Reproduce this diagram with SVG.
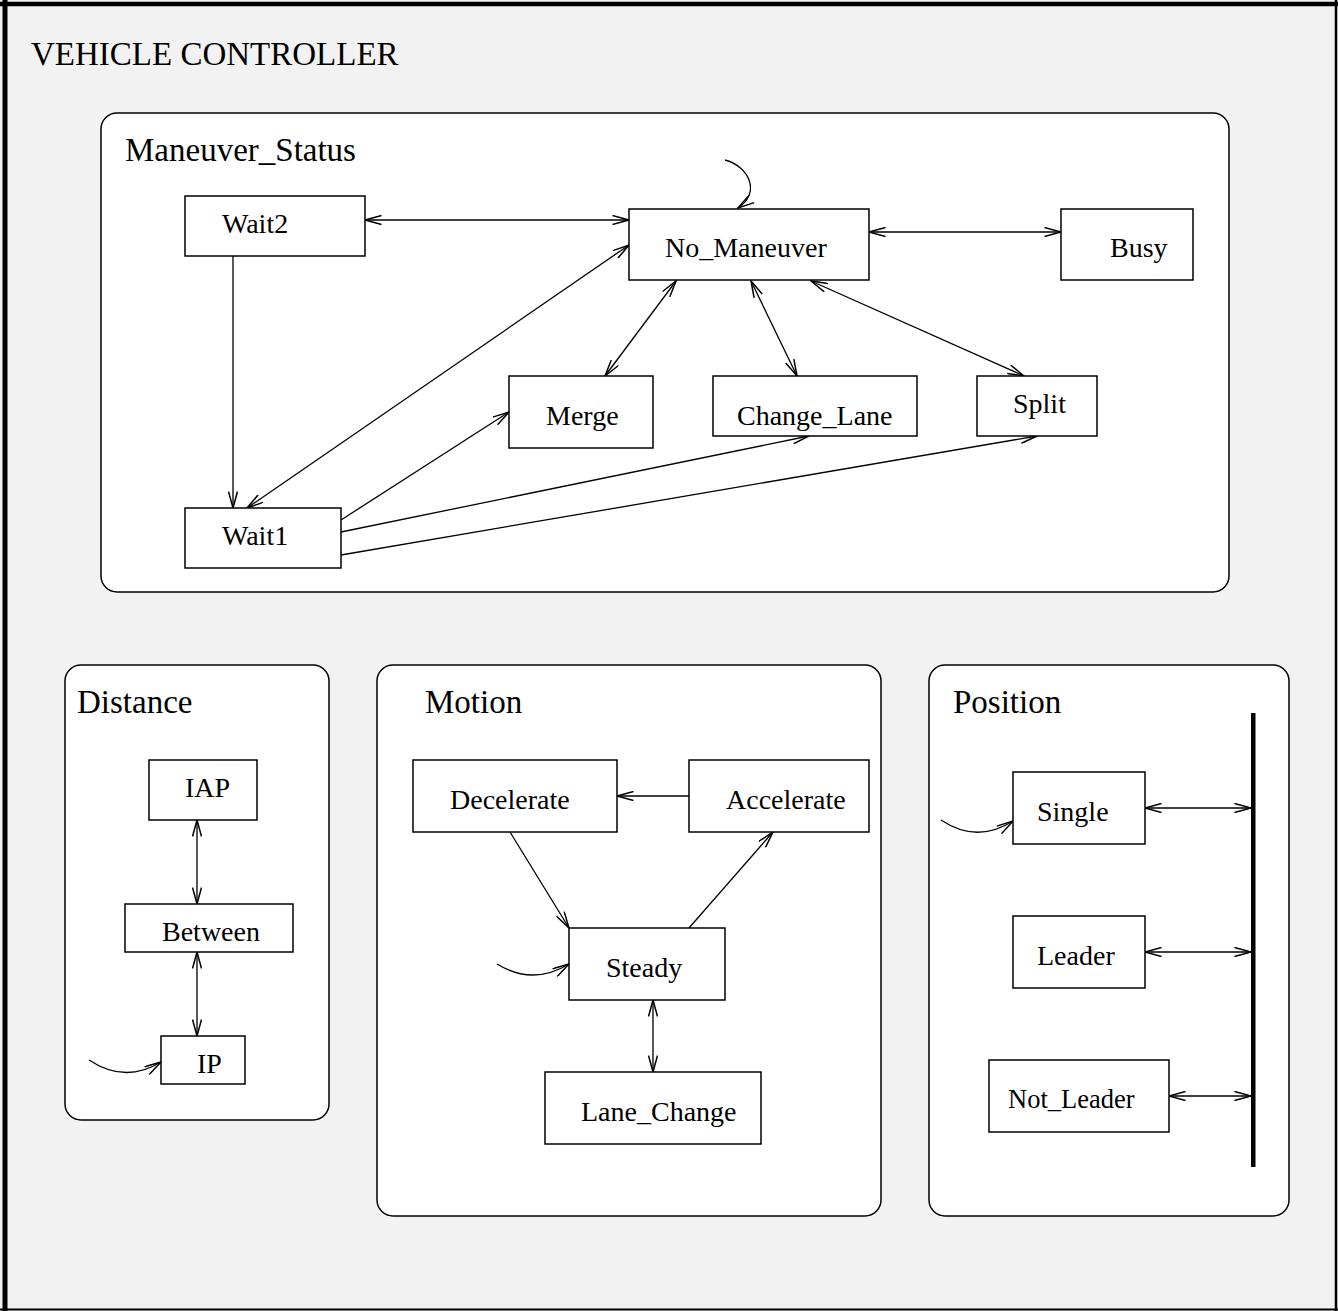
<svg xmlns="http://www.w3.org/2000/svg" width="1338" height="1311" viewBox="0 0 1338 1311">
<style>
text { font-family: "Liberation Serif", "Times New Roman", serif; fill: #000; }
.title { font-size: 33px; }
.lbl { font-size: 28px; }
.panel { fill: #fff; stroke: #000; stroke-width: 1.5; }
.state { fill: #fff; stroke: #000; stroke-width: 1.5; }
.c { fill: none; stroke: #000; stroke-width: 1.3; }
</style>
<defs>
<marker id="ah" viewBox="0 0 18 10" refX="17" refY="5" markerWidth="18" markerHeight="10" markerUnits="userSpaceOnUse" orient="auto-start-reverse">
<path d="M0.5,0.5 L17,5 L0.5,9.5" fill="none" stroke="#000" stroke-width="1.5"/>
</marker>
</defs>
<rect x="0" y="0" width="1338" height="1311" fill="#f2f2f2"/>
<g id="frame">
<line x1="0" y1="4" x2="1338" y2="4" stroke="#000" stroke-width="4.5"/>
<line x1="5" y1="0" x2="5" y2="1311" stroke="#000" stroke-width="5"/>
<line x1="1336" y1="0" x2="1336" y2="1311" stroke="#000" stroke-width="2.5"/>
<line x1="0" y1="1309.5" x2="1338" y2="1309.5" stroke="#000" stroke-width="2"/>
<text class="title" x="31" y="65">VEHICLE CONTROLLER</text>
</g>
<g id="maneuver_status">
<rect class="panel" x="101" y="113" width="1128" height="479" rx="16"/>
<text class="title" x="125" y="161">Maneuver_Status</text>
</g>
<g id="distance">
<rect class="panel" x="65" y="665" width="264" height="455" rx="16"/>
<text class="title" x="77" y="713">Distance</text>
</g>
<g id="motion">
<rect class="panel" x="377" y="665" width="504" height="551" rx="16"/>
<text class="title" x="425" y="713">Motion</text>
</g>
<g id="position">
<rect class="panel" x="929" y="665" width="360" height="551" rx="16"/>
<text class="title" x="953" y="713">Position</text>
<rect x="1251" y="713" width="4.5" height="454" fill="#000"/>
</g>
<g id="connectors">
<line class="c" x1="365" y1="220" x2="629" y2="220" marker-start="url(#ah)" marker-end="url(#ah)"/>
<line class="c" x1="869" y1="232" x2="1061" y2="232" marker-start="url(#ah)" marker-end="url(#ah)"/>
<path class="c" d="M725,160 C748,166 762,192 738,208" marker-end="url(#ah)"/>
<line class="c" x1="233" y1="256" x2="233" y2="508" marker-end="url(#ah)"/>
<line class="c" x1="629" y1="245" x2="247" y2="508" marker-start="url(#ah)" marker-end="url(#ah)"/>
<line class="c" x1="676" y1="281" x2="605" y2="376" marker-start="url(#ah)" marker-end="url(#ah)"/>
<line class="c" x1="751" y1="281" x2="797" y2="376" marker-start="url(#ah)" marker-end="url(#ah)"/>
<line class="c" x1="811" y1="281" x2="1024" y2="376" marker-start="url(#ah)" marker-end="url(#ah)"/>
<line class="c" x1="341" y1="520" x2="509" y2="412" marker-end="url(#ah)"/>
<line class="c" x1="341" y1="532" x2="809" y2="436" marker-end="url(#ah)"/>
<line class="c" x1="341" y1="555" x2="1037" y2="436" marker-end="url(#ah)"/>
<line class="c" x1="197" y1="820" x2="197" y2="904" marker-start="url(#ah)" marker-end="url(#ah)"/>
<line class="c" x1="197" y1="952" x2="197" y2="1036" marker-start="url(#ah)" marker-end="url(#ah)"/>
<path class="c" d="M89,1060 Q125,1084 161,1062" marker-end="url(#ah)"/>
<line class="c" x1="689" y1="796" x2="617" y2="796" marker-end="url(#ah)"/>
<line class="c" x1="510" y1="832" x2="569" y2="928" marker-end="url(#ah)"/>
<line class="c" x1="689" y1="928" x2="773" y2="832" marker-end="url(#ah)"/>
<line class="c" x1="653" y1="1000" x2="653" y2="1072" marker-start="url(#ah)" marker-end="url(#ah)"/>
<path class="c" d="M497,964 Q533,986 569,964" marker-end="url(#ah)"/>
<line class="c" x1="1145" y1="808" x2="1251" y2="808" marker-start="url(#ah)" marker-end="url(#ah)"/>
<line class="c" x1="1145" y1="952" x2="1251" y2="952" marker-start="url(#ah)" marker-end="url(#ah)"/>
<line class="c" x1="1169" y1="1096" x2="1251" y2="1096" marker-start="url(#ah)" marker-end="url(#ah)"/>
<path class="c" d="M941,820 Q977,844 1013,821" marker-end="url(#ah)"/>
</g>
<g id="wait2"><rect class="state" x="185" y="196" width="180" height="60"/><text class="lbl" x="222" y="233">Wait2</text></g>
<g id="no_maneuver"><rect class="state" x="629" y="209" width="240" height="71"/><text class="lbl" x="665" y="257">No_Maneuver</text></g>
<g id="busy"><rect class="state" x="1061" y="209" width="132" height="71"/><text class="lbl" x="1110" y="257">Busy</text></g>
<g id="merge"><rect class="state" x="509" y="376" width="144" height="72"/><text class="lbl" x="546" y="425">Merge</text></g>
<g id="change_lane"><rect class="state" x="713" y="376" width="204" height="60"/><text class="lbl" x="737" y="425">Change_Lane</text></g>
<g id="split"><rect class="state" x="977" y="376" width="120" height="60"/><text class="lbl" x="1013" y="413">Split</text></g>
<g id="wait1"><rect class="state" x="185" y="508" width="156" height="60"/><text class="lbl" x="222" y="545">Wait1</text></g>
<g id="iap"><rect class="state" x="149" y="760" width="108" height="60"/><text class="lbl" x="185" y="797">IAP</text></g>
<g id="between"><rect class="state" x="125" y="904" width="168" height="48"/><text class="lbl" x="162" y="941">Between</text></g>
<g id="ip"><rect class="state" x="161" y="1036" width="84" height="48"/><text class="lbl" x="197" y="1073">IP</text></g>
<g id="decelerate"><rect class="state" x="413" y="760" width="204" height="72"/><text class="lbl" x="450" y="809">Decelerate</text></g>
<g id="accelerate"><rect class="state" x="689" y="760" width="180" height="72"/><text class="lbl" x="726" y="809">Accelerate</text></g>
<g id="steady"><rect class="state" x="569" y="928" width="156" height="72"/><text class="lbl" x="606" y="977">Steady</text></g>
<g id="lane_change"><rect class="state" x="545" y="1072" width="216" height="72"/><text class="lbl" x="581" y="1121">Lane_Change</text></g>
<g id="single"><rect class="state" x="1013" y="772" width="132" height="72"/><text class="lbl" x="1037" y="821">Single</text></g>
<g id="leader"><rect class="state" x="1013" y="916" width="132" height="72"/><text class="lbl" x="1037" y="965">Leader</text></g>
<g id="not_leader"><rect class="state" x="989" y="1060" width="180" height="72"/><text class="lbl" x="1008" y="1108" style="font-size:26.5px">Not_Leader</text></g>
</svg>
